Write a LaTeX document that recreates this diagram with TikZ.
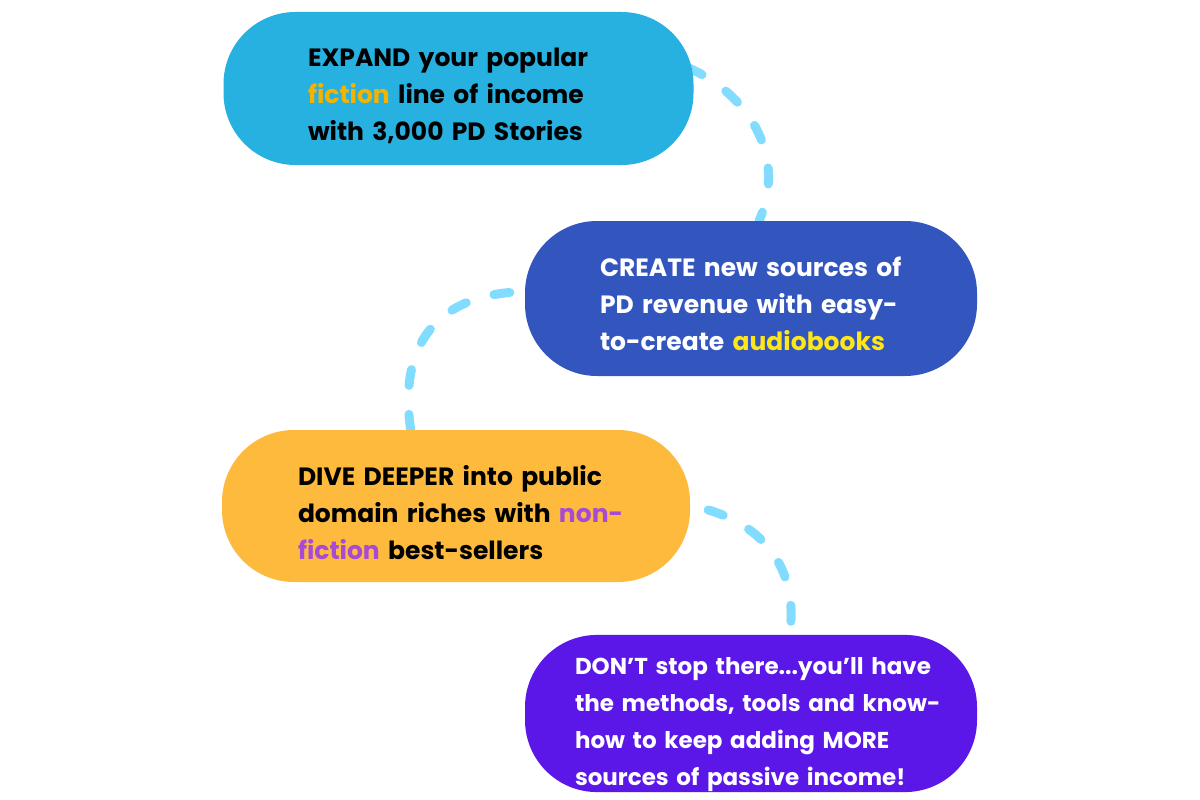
\documentclass[tikz,border=0pt]{standalone}
\usepackage{fontspec}
\setmainfont{Poppins}
\usetikzlibrary{positioning,backgrounds}
\definecolor{skyblob}{HTML}{27B1E1}
\definecolor{royalblob}{HTML}{3356BE}
\definecolor{sunblob}{HTML}{FDBA3C}
\definecolor{violetblob}{HTML}{5A17E8}
\definecolor{fictioncol}{HTML}{F5B301}
\definecolor{audiocol}{HTML}{FFE617}
\definecolor{nonficcol}{HTML}{A74BD6}
\definecolor{dashcol}{HTML}{82DCFF}
\begin{document}
\begin{tikzpicture}[x=1pt,y=-1pt,
    blob/.style={rounded corners=72pt,minimum width=470pt,minimum height=153pt,
        align=left,inner sep=0pt,text width=440pt,text height=33pt,
        font=\fontsize{25}{37}\selectfont\bfseries,
        execute at begin node={\leftskip=#1}},
    trail/.style={line width=9pt,line cap=round,dash pattern=on 16pt off 29pt,dashcol}]
    \useasboundingbox (0,0) rectangle (1200,800);
    \node[blob=69.5pt,fill=skyblob] (expand) at (458.5,88.5)
        {EXPAND your popular\\ \textcolor{fictioncol}{fiction} line of income\\ with 3,000 PD Stories};
    \node[blob=69pt,fill=royalblob,text=white,minimum width=452pt,minimum height=155pt,text height=30pt] (create) at (751,298.5)
        {CREATE new sources of\\ PD revenue with easy-\\ to-create \textcolor{audiocol}{audiobooks}};
    \node[blob=62pt,fill=sunblob,minimum width=468pt,minimum height=152pt] (dive) at (456,506)
        {DIVE DEEPER into public\\ domain riches with \textcolor{nonficcol}{non-}\\ \textcolor{nonficcol}{fiction} best-sellers};
    \node[blob=44pt,fill=violetblob,text=white,minimum width=452pt,text height=40pt,
        font=\fontsize{23}{37}\selectfont\bfseries] (dont) at (751,713.5)
        {DON’T stop there...you’ll have\\ the methods, tools and know-\\ how to keep adding MORE\\ sources of passive income!};
    %===========================================
    \begin{scope}[on background layer]
        \fill[white] (0,0) rectangle (1200,800);
        \draw[trail] ([shift={(-6,-21)}]expand.east) .. controls +(66,29) and +(27,-60) .. ([xshift=8]create.north);
        \draw[trail] ([shift={(-15,-6)}]create.west) .. controls +(-70,6) and +(-17,-95) .. ([shift={(-44,8)}]dive.north);
        \draw[trail] ([shift={(18,4)}]dive.east) .. controls +(52,15) and +(12,-72) .. ([shift={(38,4)}]dont.north);
    \end{scope}
\end{tikzpicture}
\end{document}
